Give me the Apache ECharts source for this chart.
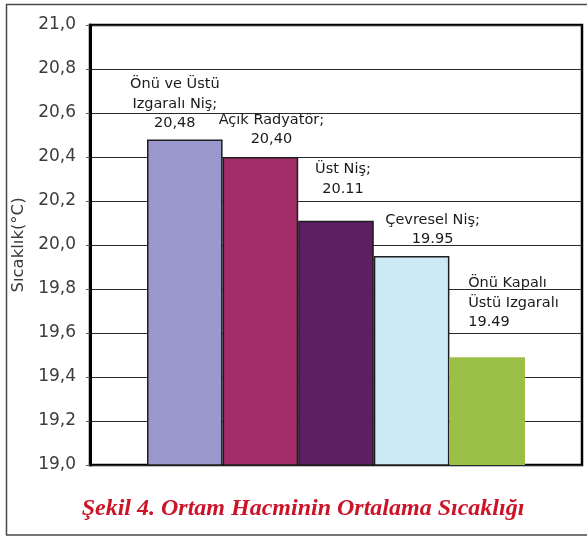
<!DOCTYPE html>
<html>
<head>
<meta charset="utf-8">
<script src="https://cdn.jsdelivr.net/npm/echarts@6/dist/echarts.min.js"></script>
<style>
  html, body { margin: 0; padding: 0; background: #fff; }
  #chart { width: 587px; height: 537px; }
</style>
</head>
<body>
<div id="chart"></div>
<script>
// Average room temperature for each niche type
const names = [
  'Önü ve Üstü\nIzgaralı Niş;',
  'Açık Radyatör;',
  'Üst Niş;',
  'Çevresel Niş;',
  'Önü Kapalı\nÜstü Izgaralı'
];
const values = [20.48, 20.40, 20.11, 19.95, 19.49];
const decimalMarks = [',', ',', '.', '.', '.'];
const colors = ['#9a98cc', '#a22d69', '#5f1d62', '#cde9f4', '#9bbf47'];

// Label placement tweaks per bar: [dx, dy], text alignment
const labelOffsets = [[-10, -6], [11, -8], [7, -22], [21, -7], [-19, -25]];
const labelAligns = ['center', 'center', 'center', 'center', 'left'];

// y axis
const yMin = 19.0, yMax = 21.0, yStep = 0.2;
const yTickFmt = v => v.toFixed(1).replace('.', ',');
const yName = 'Sıcaklık(°C)';
const caption = 'Şekil 4. Ortam Hacminin Ortalama Sıcaklığı';

const chart = echarts.init(document.getElementById('chart'), null, { renderer: 'canvas' });

const series = values.map((v, i) => ({
  type: 'bar',
  name: names[i],
  data: [v],
  barWidth: 75.6,
  barGap: '0%',
  itemStyle: {
    color: colors[i],
    borderColor: i === 4 ? colors[i] : '#1e1e1e',
    borderWidth: i === 4 ? 0 : 1.5
  },
  label: {
    show: true,
    position: 'top',
    distance: 0,
    offset: labelOffsets[i],
    align: labelAligns[i],
    fontFamily: 'DejaVu Sans',
    fontSize: 14.5,
    lineHeight: 19.5,
    color: '#1a1a1a',
    formatter: () => names[i] + '\n' + v.toFixed(2).replace('.', decimalMarks[i])
  },
  silent: true,
  animation: false
}));

chart.setOption({
  animation: false,
  backgroundColor: '#ffffff',
  title: {
    text: caption,
    left: 298,
    top: 492,
    textAlign: 'center',
    textStyle: {
      fontFamily: 'Liberation Serif',
      fontStyle: 'italic',
      fontWeight: 'bold',
      fontSize: 24,
      color: '#cc1428'
    }
  },
  grid: {
    left: 90, right: 5, top: 25, bottom: 72,
    show: true,
    borderColor: '#000',
    borderWidth: 2.5,
    backgroundColor: '#fff'
  },
  xAxis: {
    type: 'category',
    data: [''],
    axisLine: { show: false },
    axisTick: { show: false },
    axisLabel: { show: false }
  },
  yAxis: {
    type: 'value',
    min: yMin, max: yMax, interval: yStep,
    name: yName,
    nameLocation: 'middle',
    nameRotate: 90,
    nameGap: 57,
    nameTextStyle: { fontFamily: 'DejaVu Sans', fontSize: 16.5, color: '#3a3a3a' },
    axisLine: { show: true, lineStyle: { color: '#000', width: 3 } },
    axisTick: { show: true, length: 4, lineStyle: { color: '#555', width: 1 } },
    axisLabel: {
      margin: 14,
      fontFamily: 'DejaVu Sans',
      fontSize: 17,
      color: '#3c3c3c',
      formatter: yTickFmt
    },
    splitLine: { show: true, lineStyle: { color: '#2a2a2a', width: 1 } }
  },
  graphic: [{
    type: 'rect',
    shape: { x: 6.5, y: 4.5, width: 600, height: 530.5 },
    style: { fill: 'none', stroke: '#4a4a4a', lineWidth: 1.5 },
    silent: true,
    z: -1
  }],
  series: series
});
</script>
</body>
</html>
